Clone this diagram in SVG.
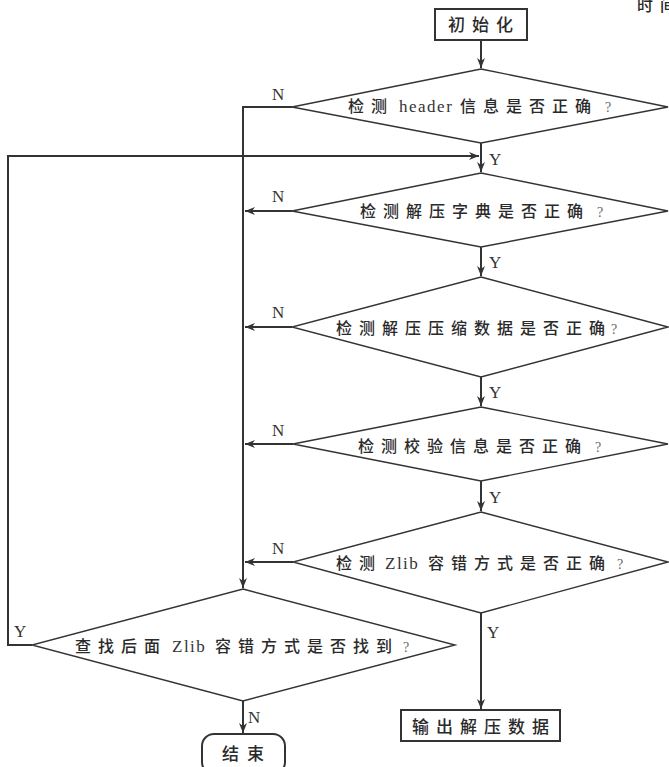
<svg xmlns="http://www.w3.org/2000/svg" width="669" height="767" viewBox="0 0 669 767">
<defs>
<marker id="arr" markerUnits="userSpaceOnUse" markerWidth="10" markerHeight="8" refX="10" refY="4" orient="auto">
<path d="M0,0 L10,4 L0,8 L3,4 z" fill="#333"/>
</marker>
<style>
.dm{fill:#fff;stroke:#333;stroke-width:1.4}
.bx{fill:#fff;stroke:#333;stroke-width:2}
.cn{font-family:"Noto Sans CJK SC","Noto Sans",sans-serif;font-size:16px;font-weight:500;letter-spacing:7px;fill:#2a2a2a}
.bt{font-family:"Noto Sans CJK SC","Noto Sans",sans-serif;font-size:17px;font-weight:500;letter-spacing:7px;fill:#2a2a2a}
.e{letter-spacing:0px}
.lat{font-family:"Liberation Serif",serif;font-size:17px;letter-spacing:1.5px;fill:#333}
.q{font-family:"Liberation Serif",serif;font-size:14px;fill:#666}
.lb{font-family:"Liberation Serif",serif;font-size:17px;fill:#333}
.cl{fill:none;stroke:#333;stroke-width:2}
</style>
</defs>
<rect width="669" height="767" fill="#fff"/>
<text y="11" class="cn"><tspan x="637">时</tspan><tspan x="660" class="e">间</tspan></text>
<g id="connectors">
<path class="cl" d="M481,40 V68" marker-end="url(#arr)"/>
<path class="cl" d="M481,143 V172" marker-end="url(#arr)"/>
<path class="cl" d="M481,247 V276" marker-end="url(#arr)"/>
<path class="cl" d="M481,377 V406" marker-end="url(#arr)"/>
<path class="cl" d="M481,481 V511" marker-end="url(#arr)"/>
<path class="cl" d="M481,613 V709" marker-end="url(#arr)"/>
<path class="cl" d="M243,701 V733" marker-end="url(#arr)"/>
<path class="cl" d="M292,107 H243 V588" marker-end="url(#arr)"/>
<path class="cl" d="M292,211 H245" marker-end="url(#arr)"/>
<path class="cl" d="M292,327 H245" marker-end="url(#arr)"/>
<path class="cl" d="M293,444 H245" marker-end="url(#arr)"/>
<path class="cl" d="M293,562 H245" marker-end="url(#arr)"/>
<path class="cl" d="M32,645 H8 V156 H479" marker-end="url(#arr)"/>
<text x="272" y="100" class="lb">N</text>
<text x="489" y="165" class="lb">Y</text>
<text x="272" y="202" class="lb">N</text>
<text x="489" y="268" class="lb">Y</text>
<text x="272" y="318" class="lb">N</text>
<text x="489" y="398" class="lb">Y</text>
<text x="272" y="436" class="lb">N</text>
<text x="489" y="503" class="lb">Y</text>
<text x="272" y="554" class="lb">N</text>
<text x="487" y="638" class="lb">Y</text>
<text x="14" y="637" class="lb">Y</text>
<text x="248" y="723" class="lb">N</text>
</g>
<g id="init">
<rect class="bx" x="435" y="9" width="92" height="31"/>
<text y="31" class="bt"><tspan x="448">初始</tspan><tspan x="496" class="e">化</tspan></text>
</g>
<g id="d1">
<polygon class="dm" points="481,69 668,107 481,143 292,107"/>
<text y="112"><tspan x="348" class="cn">检</tspan><tspan x="371" class="cn e">测</tspan><tspan x="399" class="lat">heade</tspan><tspan class="lat e">r</tspan><tspan x="460" class="cn">信息是否正</tspan><tspan x="575" class="cn e">确</tspan><tspan x="605" class="q">?</tspan></text>
</g>
<g id="d2">
<polygon class="dm" points="481,173 668,211 481,247 292,211"/>
<text y="217"><tspan x="360" class="cn">检测解压字典是否正</tspan><tspan x="567" class="cn e">确</tspan><tspan x="597" class="q">?</tspan></text>
</g>
<g id="d3">
<polygon class="dm" points="481,277 668,327 481,377 292,327"/>
<text y="334"><tspan x="336" class="cn">检测解压压缩数据是否正</tspan><tspan x="589" class="cn e">确</tspan><tspan x="611" class="q">?</tspan></text>
</g>
<g id="d4">
<polygon class="dm" points="481,407 668,444 481,481 293,444"/>
<text y="452"><tspan x="358" class="cn">检测校验信息是否正</tspan><tspan x="565" class="cn e">确</tspan><tspan x="595" class="q">?</tspan></text>
</g>
<g id="d5">
<polygon class="dm" points="481,512 668,562 481,613 293,562"/>
<text y="569"><tspan x="336" class="cn">检</tspan><tspan x="359" class="cn e">测</tspan><tspan x="385" class="lat">Zli</tspan><tspan class="lat e">b</tspan><tspan x="428" class="cn">容错方式是否正</tspan><tspan x="589" class="cn e">确</tspan><tspan x="617" class="q">?</tspan></text>
</g>
<g id="d6">
<polygon class="dm" points="243,589 455,645 243,701 32,645"/>
<text y="652"><tspan x="75" class="cn">查找后</tspan><tspan x="144" class="cn e">面</tspan><tspan x="172" class="lat">Zli</tspan><tspan class="lat e">b</tspan><tspan x="215" class="cn">容错方式是否找</tspan><tspan x="376" class="cn e">到</tspan><tspan x="403" class="q">?</tspan></text>
</g>
<g id="output">
<rect class="bx" x="401" y="710" width="159" height="31"/>
<text y="733" class="bt"><tspan x="412">输出解压数</tspan><tspan x="532" class="e">据</tspan></text>
</g>
<g id="end">
<rect class="bx" x="202" y="734" width="83" height="40" rx="12" ry="12"/>
<text y="760" class="bt"><tspan x="222">结</tspan><tspan x="247" class="e">束</tspan></text>
</g>
</svg>
